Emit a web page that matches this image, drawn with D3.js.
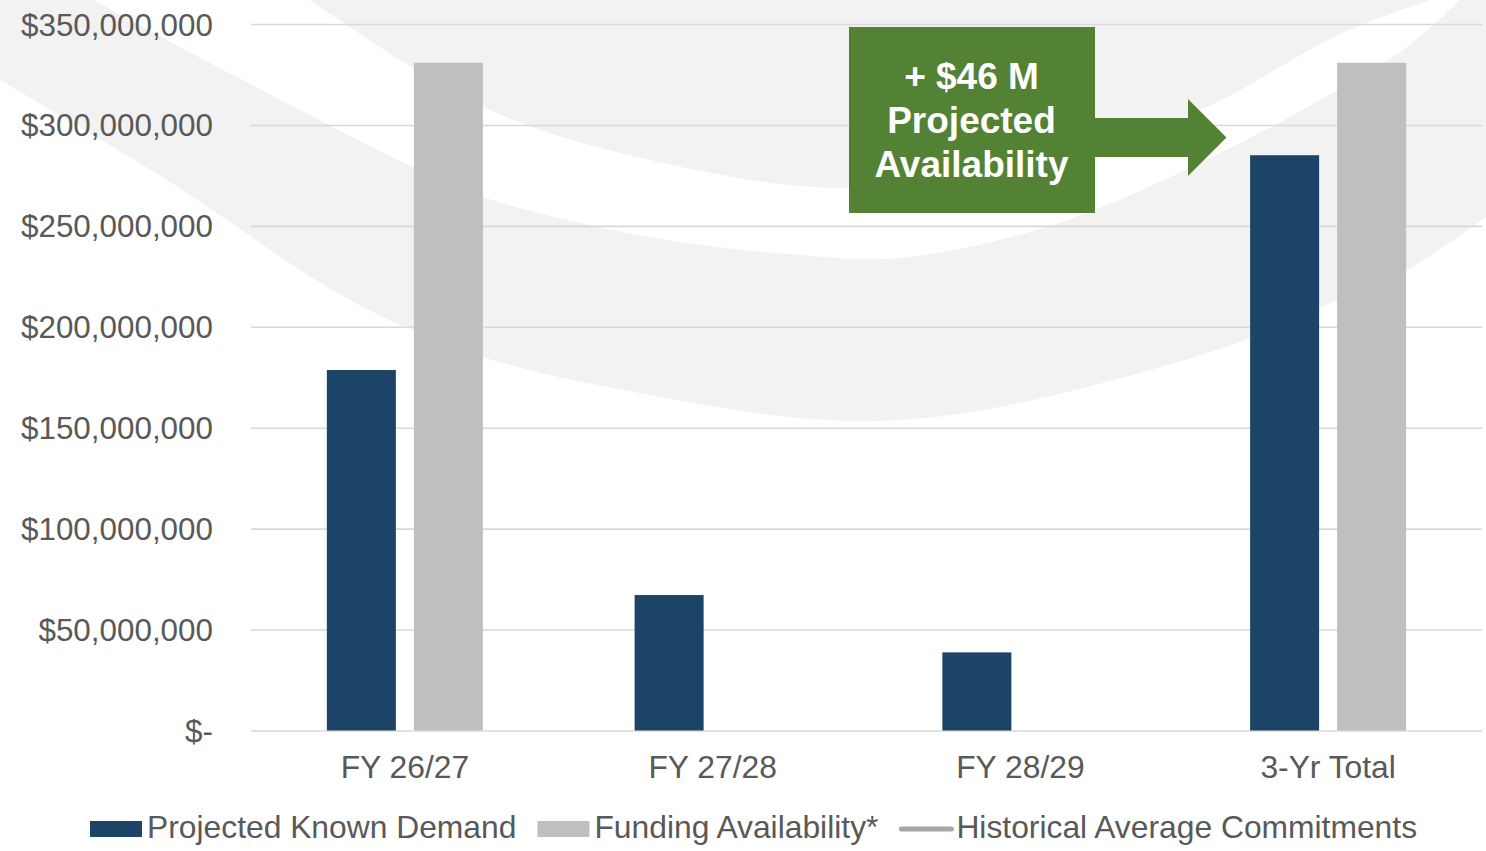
<!DOCTYPE html>
<html>
<head>
<meta charset="utf-8">
<script src="https://cdn.jsdelivr.net/npm/d3@7"></script>
<style>
  body { margin: 0; background: #ffffff; }
  svg { display: block; }
  text { font-family: "Liberation Sans", Arial, Helvetica, sans-serif; }
</style>
</head>
<body>
<svg id="chart" width="1486" height="851"></svg>
<script>
// ---------------- DATA ----------------
const categories = ["FY 26/27", "FY 27/28", "FY 28/29", "3-Yr Total"];
const seriesNames = ["Projected Known Demand", "Funding Availability*"];
const demandValues = [178600000, 67100000, 38700000, 285000000];
const fundingValues = [330800000, null, null, 330800000];
const historicalLabel = "Historical Average Commitments";
const yTickValues = [0, 50000000, 100000000, 150000000, 200000000, 250000000, 300000000, 350000000];
const annotationLines = ["+ $46 M", "Projected", "Availability"];

// ---------------- STYLE / LAYOUT ----------------
const W = 1486, H = 851;
const plot = { left: 251, right: 1482, top: 24, bottom: 730.5 };
const colors = { demand: "#1c4466", funding: "#bfbfbf", hist: "#a6a6a6",
                 grid: "#d9d9d9", text: "#595959", swoosh: "#f2f2f2", green: "#548235" };
const fontSize = 31.8;
const yFontSize = 31.4;

const svg = d3.select("#chart");

// ---------------- DECORATIVE BACKGROUND SWOOSHES ----------------
const curveA = [[310,0],[483,107],[650,160],[845,188],[1030,163],[1200,110],[1338,35],[1430,0]];
const curveB = [[93,0],[233,75],[413,167],[483,197],[650,237],[800,255],[900,258],[1050,226],[1200,163],[1338,90],[1407,47],[1460,0]];
const curveC = [[0,80],[167,180],[350,300],[483,357],[650,395],[800,418],[900,420],[1019,403],[1237,343],[1338,300],[1407,270],[1486,217]];
const sw = d3.line().curve(d3.curveCatmullRom.alpha(0.5));
const bg = svg.append("g");
bg.append("path").attr("fill", colors.swoosh)
  .attr("d", sw(curveA) + "Z");
bg.append("path").attr("fill", colors.swoosh)
  .attr("d", "M0,0L93,0" + sw(curveB).replace(/^M/, "L") + "L1486,0" +
             sw(curveC.slice().reverse()).replace(/^M/, "L") + "Z");

// ---------------- SCALES ----------------
const y = d3.scaleLinear().domain([0, 350000000]).range([plot.bottom, plot.top]);
const x0 = d3.scaleBand().domain(categories).range([plot.left, plot.right]).paddingInner(0.493).paddingOuter(0.2465);
const x1 = d3.scaleBand().domain(seriesNames).range([0, x0.bandwidth()]).paddingInner(0.207);

// ---------------- GRIDLINES + Y LABELS ----------------
const yAxis = d3.axisLeft(y).tickValues(yTickValues)
  .tickSize(-(plot.right - plot.left))
  .tickFormat(d => d === 0 ? "$-" : d3.format("$,")(d));
const gAxis = svg.append("g").attr("transform", `translate(${plot.left},0)`).call(yAxis);
gAxis.select(".domain").remove();
gAxis.attr("font-family", null).attr("font-size", null);
gAxis.selectAll(".tick line").attr("stroke", colors.grid).attr("stroke-width", 1.6);
gAxis.selectAll(".tick text")
  .attr("x", 213 - plot.left)
  .attr("dy", "0.35em")
  .attr("fill", colors.text)
  .style("font-size", yFontSize + "px")
  .attr("text-anchor", "end");

// ---------------- BARS ----------------
const barData = [];
categories.forEach((c, i) => {
  barData.push({ cat: c, s: seriesNames[0], v: demandValues[i], color: colors.demand });
  if (fundingValues[i] != null) barData.push({ cat: c, s: seriesNames[1], v: fundingValues[i], color: colors.funding });
});
svg.append("g").selectAll("rect").data(barData).join("rect")
  .attr("x", d => x0(d.cat) + x1(d.s))
  .attr("width", x1.bandwidth())
  .attr("y", d => y(d.v))
  .attr("height", d => y(0) - y(d.v))
  .attr("fill", d => d.color);

// ---------------- X LABELS ----------------
const xAxis = d3.axisBottom(x0).tickSize(0).tickPadding(0);
const gx = svg.append("g").attr("transform", `translate(0,${plot.bottom})`).call(xAxis);
gx.select(".domain").remove();
gx.attr("font-family", null).attr("font-size", null);
gx.selectAll(".tick text")
  .attr("y", 47.5).attr("dy", null)
  .attr("fill", colors.text)
  .style("font-size", fontSize + "px");

// ---------------- ANNOTATION (green box + arrow) ----------------
const ann = svg.append("g");
const box = { x: 849, y: 27, w: 246, h: 186 };
ann.append("rect").attr("x", box.x).attr("y", box.y).attr("width", box.w).attr("height", box.h).attr("fill", colors.green);
const arrowPts = [[1094,118],[1188,118],[1188,99],[1226.5,137.5],[1188,176],[1188,157],[1094,157]];
ann.append("path").attr("d", d3.line()(arrowPts) + "Z").attr("fill", colors.green);
ann.selectAll("text.ann").data(annotationLines).join("text")
  .attr("class", "ann")
  .attr("x", box.x + box.w / 2 - 0.5)
  .attr("y", (d, i) => 89 + i * 44)
  .attr("text-anchor", "middle")
  .attr("fill", "#ffffff")
  .style("font-size", "37px")
  .style("font-weight", "bold")
  .text(d => d);

// ---------------- LEGEND ----------------
const legend = svg.append("g");
const legendItems = [
  { label: seriesNames[0], type: "rect", color: colors.demand },
  { label: seriesNames[1], type: "rect", color: colors.funding },
  { label: historicalLabel, type: "line", color: colors.hist }
];
let lx = 90;
const baseY = 838;
legendItems.forEach(it => {
  if (it.type === "rect") {
    legend.append("rect").attr("x", lx).attr("y", 821).attr("width", 52).attr("height", 16).attr("fill", it.color);
  } else {
    legend.append("line").attr("x1", lx + 2).attr("x2", lx + 52).attr("y1", 829).attr("y2", 829)
      .attr("stroke", it.color).attr("stroke-width", 5).attr("stroke-linecap", "round");
  }
  lx += 57;
  const t = legend.append("text").attr("x", lx).attr("y", baseY)
    .attr("fill", colors.text).style("font-size", fontSize + "px").text(it.label);
  lx += t.node().getComputedTextLength() + 21;
});
</script>
</body>
</html>
